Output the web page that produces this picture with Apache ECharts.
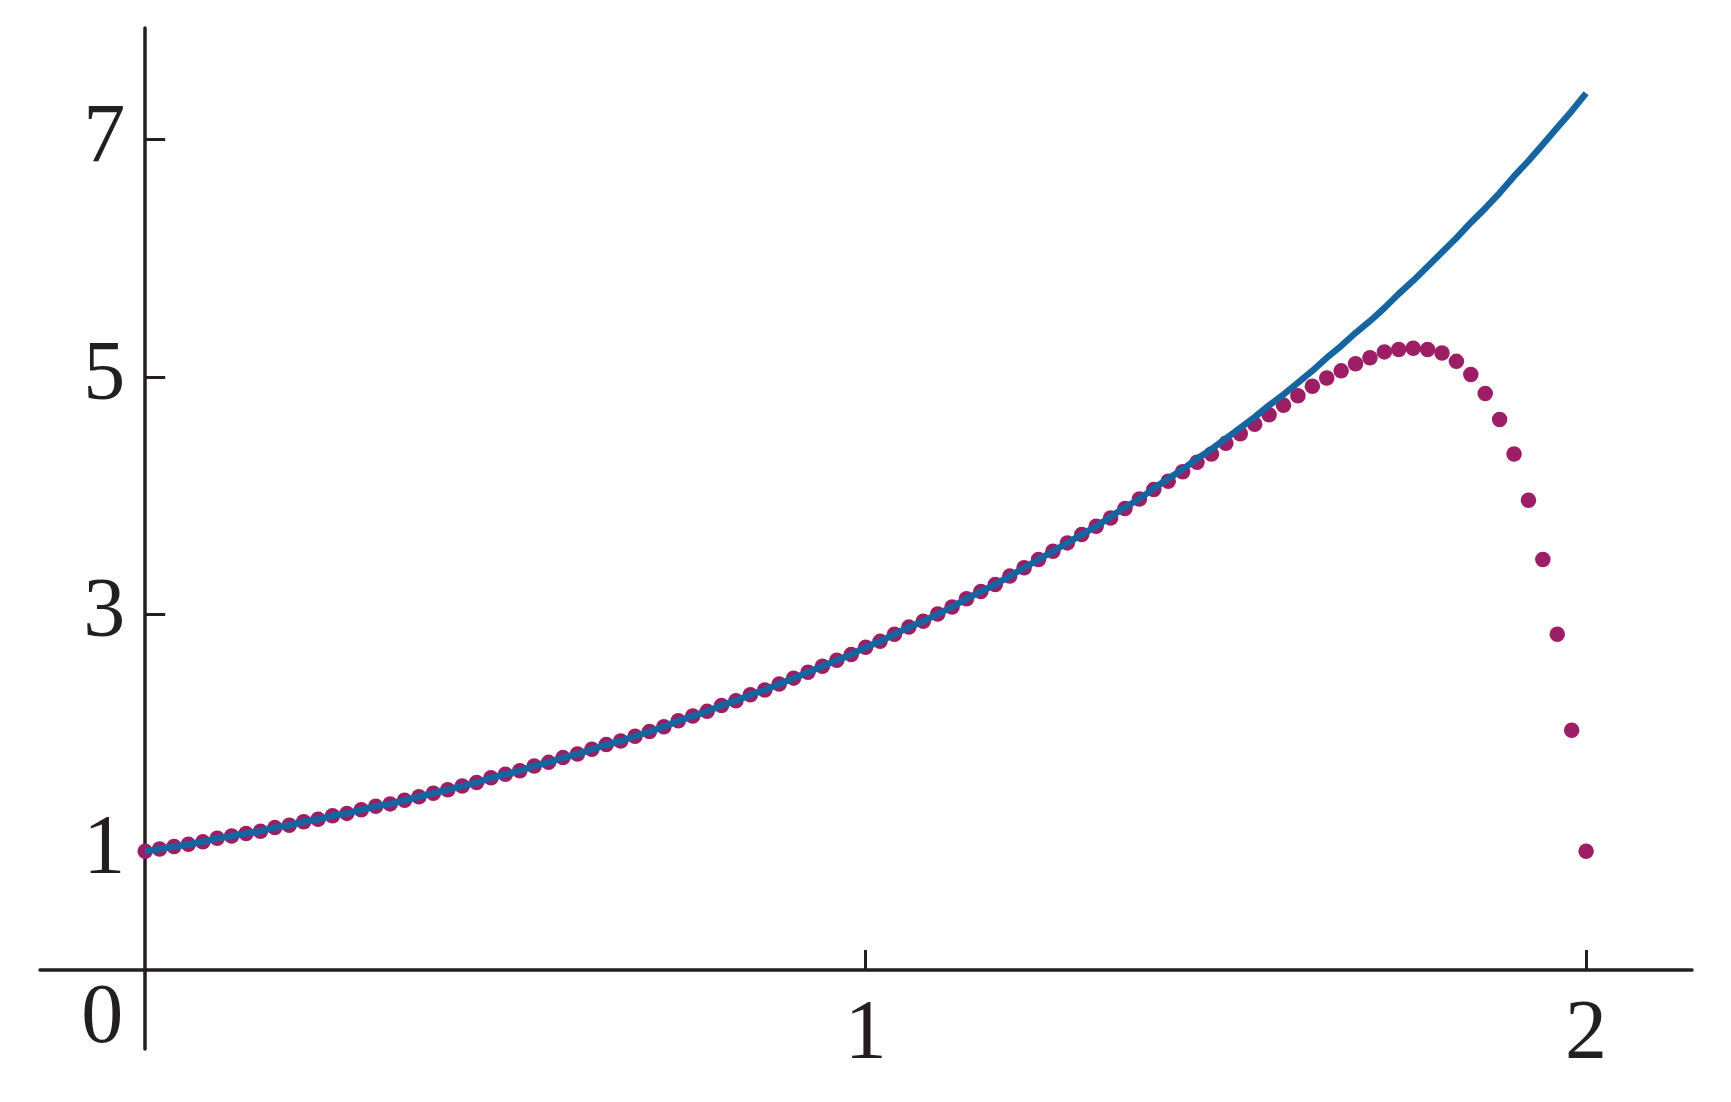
<!doctype html>
<html>
<head>
<meta charset="utf-8">
<title>e^x and approximation</title>
<script src="https://cdn.jsdelivr.net/npm/echarts@6/dist/echarts.min.js"></script>
<style>
  html, body { margin:0; padding:0; background:#fff; }
  #chart { width:1731px; height:1102px; }
</style>
</head>
<body>
<div id="chart"></div>
<script>
// x positions of the sample points (step 0.02)
const xs = [
  0.00, 0.02, 0.04, 0.06, 0.08, 0.10, 0.12, 0.14, 0.16, 0.18,
  0.20, 0.22, 0.24, 0.26, 0.28, 0.30, 0.32, 0.34, 0.36, 0.38,
  0.40, 0.42, 0.44, 0.46, 0.48, 0.50, 0.52, 0.54, 0.56, 0.58,
  0.60, 0.62, 0.64, 0.66, 0.68, 0.70, 0.72, 0.74, 0.76, 0.78,
  0.80, 0.82, 0.84, 0.86, 0.88, 0.90, 0.92, 0.94, 0.96, 0.98,
  1.00, 1.02, 1.04, 1.06, 1.08, 1.10, 1.12, 1.14, 1.16, 1.18,
  1.20, 1.22, 1.24, 1.26, 1.28, 1.30, 1.32, 1.34, 1.36, 1.38,
  1.40, 1.42, 1.44, 1.46, 1.48, 1.50, 1.52, 1.54, 1.56, 1.58,
  1.60, 1.62, 1.64, 1.66, 1.68, 1.70, 1.72, 1.74, 1.76, 1.78,
  1.80, 1.82, 1.84, 1.86, 1.88, 1.90, 1.92, 1.94, 1.96, 1.98,
  2.00
];

// blue curve
const exact = [
  1.00, 1.02, 1.04, 1.06, 1.08, 1.11, 1.13, 1.15, 1.17, 1.20,
  1.22, 1.25, 1.27, 1.30, 1.32, 1.35, 1.38, 1.40, 1.43, 1.46,
  1.49, 1.52, 1.55, 1.58, 1.62, 1.65, 1.68, 1.72, 1.75, 1.79,
  1.82, 1.86, 1.90, 1.93, 1.97, 2.01, 2.05, 2.10, 2.14, 2.18,
  2.23, 2.27, 2.32, 2.36, 2.41, 2.46, 2.51, 2.56, 2.61, 2.66,
  2.72, 2.77, 2.83, 2.89, 2.94, 3.00, 3.06, 3.13, 3.19, 3.25,
  3.32, 3.39, 3.46, 3.53, 3.60, 3.67, 3.74, 3.82, 3.90, 3.97,
  4.06, 4.14, 4.22, 4.31, 4.39, 4.48, 4.57, 4.66, 4.76, 4.85,
  4.95, 5.05, 5.16, 5.26, 5.37, 5.47, 5.58, 5.70, 5.81, 5.93,
  6.05, 6.17, 6.30, 6.42, 6.55, 6.69, 6.82, 6.96, 7.10, 7.24,
  7.39
];

// magenta dots
const approx = [
  1.00, 1.02, 1.04, 1.06, 1.08, 1.11, 1.13, 1.15, 1.17, 1.20,
  1.22, 1.25, 1.27, 1.30, 1.32, 1.35, 1.38, 1.40, 1.43, 1.46,
  1.49, 1.52, 1.55, 1.58, 1.62, 1.65, 1.68, 1.72, 1.75, 1.79,
  1.82, 1.86, 1.90, 1.93, 1.97, 2.01, 2.05, 2.10, 2.14, 2.18,
  2.23, 2.27, 2.32, 2.36, 2.41, 2.46, 2.51, 2.56, 2.61, 2.66,
  2.72, 2.77, 2.83, 2.89, 2.94, 3.00, 3.06, 3.13, 3.19, 3.25,
  3.32, 3.39, 3.46, 3.53, 3.60, 3.67, 3.74, 3.81, 3.89, 3.97,
  4.05, 4.12, 4.20, 4.28, 4.35, 4.44, 4.52, 4.60, 4.68, 4.76,
  4.84, 4.92, 4.99, 5.05, 5.11, 5.16, 5.21, 5.23, 5.24, 5.23,
  5.20, 5.13, 5.02, 4.86, 4.64, 4.35, 3.96, 3.46, 2.83, 2.02,
  1.00
];

const xTicks = [1, 2];
const yTicks = [1, 3, 5, 7];

const ink = '#231f20';
const labelFont = { fontFamily: '"Liberation Serif", serif', fontSize: 84, color: ink };

// axes cross at the origin; shift them in from the grid edges
const xMin = -0.146, xMax = 2.147, yMin = -0.666, yMax = 7.94;
const G = { left: 40, right: 39, top: 28, bottom: 53 };
const plotW = 1731 - G.left - G.right, plotH = 1102 - G.top - G.bottom;
const xShift = -(-xMin / (xMax - xMin)) * plotW;
const yShift = -(-yMin / (yMax - yMin)) * plotH;

const chart = echarts.init(document.getElementById('chart'));
chart.setOption({
  backgroundColor: '#fff',
  animation: false,
  grid: { ...G, containLabel: false, outerBoundsMode: 'none' },
  xAxis: {
    type: 'value', min: xMin, max: xMax,
    position: 'bottom', offset: yShift,
    splitLine: { show: false },
    axisLine: { onZero: false, lineStyle: { color: ink, width: 3.5 } },
    axisTick: { inside: true, length: 20, customValues: xTicks, lineStyle: { color: ink, width: 3 } },
    axisLabel: { customValues: xTicks, margin: 24, ...labelFont }
  },
  yAxis: {
    type: 'value', min: yMin, max: yMax,
    position: 'left', offset: xShift,
    splitLine: { show: false },
    axisLine: { onZero: false, lineStyle: { color: ink, width: 3.5 } },
    axisTick: { inside: true, length: 20, customValues: yTicks, lineStyle: { color: ink, width: 3 } },
    axisLabel: { customValues: yTicks, margin: 20, ...labelFont }
  },
  series: [
    {
      type: 'scatter',
      data: xs.map((x, i) => [x, approx[i]]),
      symbol: 'circle',
      symbolSize: 15.5,
      itemStyle: { color: '#9d1e64', opacity: 1 }
    },
    {
      type: 'line',
      data: xs.map((x, i) => [x, exact[i]]),
      showSymbol: false,
      lineStyle: { color: '#1665a1', width: 6.5 }
    }
  ]
});

// "0" at the origin, below-left of the crossing
const o = chart.convertToPixel({ gridIndex: 0 }, [0, 0]);
chart.setOption({
  graphic: [{
    type: 'text',
    x: o[0] - 43, y: o[1] + 50,
    style: {
      text: '0', fill: ink,
      font: '84px "Liberation Serif", serif',
      align: 'center', verticalAlign: 'middle'
    }
  }]
});
</script>
</body>
</html>
